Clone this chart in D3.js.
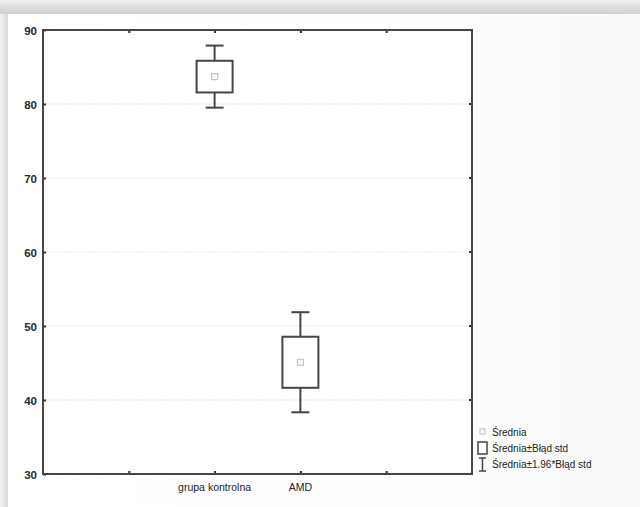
<!DOCTYPE html>
<html>
<head>
<meta charset="utf-8">
<script src="https://cdn.jsdelivr.net/npm/d3@7"></script>
<style>
  html, body { margin: 0; padding: 0; background: #fff; }
  svg { display: block; }
</style>
</head>
<body>
<svg id="chart" width="640" height="507"></svg>
<script>
// data
const groups = ['grupa kontrolna', 'AMD']
const groupPos = [2, 3]
const means = [83.7, 45.1]
const stdErr = [2.14, 3.45]
const yTicks = [30, 40, 50, 60, 70, 80, 90]
const legendLabels = ['Średnia', 'Średnia±Błąd std', 'Średnia±1.96*Błąd std']

const svg = d3.select('#chart')
const W = 640, H = 507
const plot = { left: 43, right: 472, top: 30, bottom: 474 }

// screenshot frame: grey shadow band on top and left
const defs = svg.append('defs')
const topGrad = defs.append('linearGradient').attr('id', 'topShade').attr('x1', 0).attr('y1', 0).attr('x2', 0).attr('y2', 1)
topGrad.append('stop').attr('offset', '0%').attr('stop-color', '#f0f0f0')
topGrad.append('stop').attr('offset', '100%').attr('stop-color', '#cfcfcf')
const leftGrad = defs.append('linearGradient').attr('id', 'leftShade').attr('x1', 0).attr('y1', 0).attr('x2', 1).attr('y2', 0)
leftGrad.append('stop').attr('offset', '0%').attr('stop-color', '#f2f2f2')
leftGrad.append('stop').attr('offset', '100%').attr('stop-color', '#d8d8d8')
const panelGrad = defs.append('linearGradient').attr('id', 'panelShade').attr('x1', 0).attr('y1', 0).attr('x2', 1).attr('y2', 0)
panelGrad.append('stop').attr('offset', '0%').attr('stop-color', '#ffffff')
panelGrad.append('stop').attr('offset', '70%').attr('stop-color', '#fdfdfd')
panelGrad.append('stop').attr('offset', '100%').attr('stop-color', '#f8f8f8')

svg.append('rect').attr('x', 0).attr('y', 0).attr('width', W).attr('height', H).attr('fill', '#f4f4f4')
svg.append('rect').attr('x', 0).attr('y', 0).attr('width', W).attr('height', 14).attr('fill', 'url(#topShade)')
svg.append('rect').attr('x', 0).attr('y', 14).attr('width', 8).attr('height', H - 14).attr('fill', 'url(#leftShade)')
svg.append('rect').attr('x', 8).attr('y', 14).attr('width', W - 8).attr('height', H - 14).attr('fill', 'url(#panelShade)')

const x = d3.scaleLinear().domain([0, 5]).range([plot.left, plot.right])
const y = d3.scaleLinear().domain([30, 90]).range([plot.bottom, plot.top])

const g = svg.append('g')

g.append('rect')
  .attr('x', plot.left).attr('y', plot.top)
  .attr('width', plot.right - plot.left).attr('height', plot.bottom - plot.top)
  .attr('fill', '#fff')

// faint gridlines
g.selectAll('.grid').data(yTicks.slice(1, -1)).join('line')
  .attr('class', 'grid')
  .attr('x1', plot.left).attr('x2', plot.right)
  .attr('y1', d => y(d)).attr('y2', d => y(d))
  .attr('stroke', '#e4e4e4').attr('stroke-width', 1)
  .attr('stroke-dasharray', '2,1')

// axes (ticks inward, no domain path; frame drawn separately)
const yAxis = d3.axisLeft(y).tickValues(yTicks).tickSize(-3).tickPadding(6)
const gy = g.append('g').attr('transform', `translate(${plot.left},0)`).call(yAxis)
gy.select('.domain').remove()
gy.selectAll('text').attr('font-family', 'Arial, "Liberation Sans", sans-serif')
  .attr('font-size', 11.5).attr('font-weight', 'bold').attr('fill', '#2a2a2a').attr('dy', '0.35em')
gy.selectAll('line').attr('stroke', '#333').attr('stroke-width', 2)

const xAxis = d3.axisBottom(x).tickValues([1, 2, 3, 4]).tickSize(-3).tickFormat('')
const gx = g.append('g').attr('transform', `translate(0,${plot.bottom})`).call(xAxis)
gx.select('.domain').remove()
gx.selectAll('line').attr('stroke', '#333').attr('stroke-width', 2)

const gxTop = g.append('g').attr('transform', `translate(0,${plot.top})`).call(d3.axisTop(x).tickValues([1, 2, 3, 4]).tickSize(-3).tickFormat(''))
gxTop.select('.domain').remove()
gxTop.selectAll('line').attr('stroke', '#333').attr('stroke-width', 2)

// right side ticks
g.selectAll('.rtick').data(yTicks.slice(1, -1)).join('line')
  .attr('x1', plot.right - 3).attr('x2', plot.right)
  .attr('y1', d => y(d)).attr('y2', d => y(d))
  .attr('stroke', '#333').attr('stroke-width', 2)

// category labels
g.selectAll('.cat').data(groups).join('text')
  .attr('x', (d, i) => x(groupPos[i]))
  .attr('y', plot.bottom + 17)
  .attr('text-anchor', 'middle')
  .attr('font-family', 'Arial, "Liberation Sans", sans-serif')
  .attr('font-size', 10.5).attr('fill', '#222')
  .text(d => d)

// frame
g.append('rect')
  .attr('x', plot.left).attr('y', plot.top)
  .attr('width', plot.right - plot.left).attr('height', plot.bottom - plot.top)
  .attr('fill', 'none').attr('stroke', '#4a4444').attr('stroke-width', 2)

// whisker boxes
const boxW = 36, capW = 18
const stroke = '#4a4444'
groups.forEach((name, i) => {
  const cx = x(groupPos[i])
  const m = means[i], se = stdErr[i]
  const hiW = y(m + 1.96 * se), loW = y(m - 1.96 * se)
  const hiB = y(m + se), loB = y(m - se)
  const bg = g.append('g')
  bg.append('line').attr('x1', cx).attr('x2', cx).attr('y1', hiW).attr('y2', hiB)
    .attr('stroke', stroke).attr('stroke-width', 2)
  bg.append('line').attr('x1', cx).attr('x2', cx).attr('y1', loB).attr('y2', loW)
    .attr('stroke', stroke).attr('stroke-width', 2)
  bg.append('line').attr('x1', cx - capW / 2).attr('x2', cx + capW / 2).attr('y1', hiW).attr('y2', hiW)
    .attr('stroke', stroke).attr('stroke-width', 2)
  bg.append('line').attr('x1', cx - capW / 2).attr('x2', cx + capW / 2).attr('y1', loW).attr('y2', loW)
    .attr('stroke', stroke).attr('stroke-width', 2)
  bg.append('rect').attr('x', cx - boxW / 2).attr('y', hiB)
    .attr('width', boxW).attr('height', loB - hiB)
    .attr('fill', '#fff').attr('stroke', stroke).attr('stroke-width', 2)
  bg.append('rect').attr('x', cx - 3).attr('y', y(m) - 3).attr('width', 6).attr('height', 6)
    .attr('fill', '#fff').attr('stroke', '#c4c4c4').attr('stroke-width', 1.2)
})

// legend
const lx = 478, ly = [432, 448, 464]
const leg = svg.append('g')
leg.append('rect').attr('x', lx + 2).attr('y', ly[0] - 3).attr('width', 5).attr('height', 5)
  .attr('fill', '#fff').attr('stroke', '#bbb').attr('stroke-width', 1)
leg.append('rect').attr('x', lx).attr('y', ly[1] - 6).attr('width', 9).attr('height', 12)
  .attr('fill', '#fff').attr('stroke', stroke).attr('stroke-width', 1.5)
leg.append('line').attr('x1', lx + 4.5).attr('x2', lx + 4.5).attr('y1', ly[2] - 6).attr('y2', ly[2] + 7)
  .attr('stroke', stroke).attr('stroke-width', 1.5)
leg.append('line').attr('x1', lx + 1).attr('x2', lx + 8).attr('y1', ly[2] - 6).attr('y2', ly[2] - 6)
  .attr('stroke', stroke).attr('stroke-width', 1.5)
leg.append('line').attr('x1', lx + 1).attr('x2', lx + 8).attr('y1', ly[2] + 7).attr('y2', ly[2] + 7)
  .attr('stroke', stroke).attr('stroke-width', 1.5)
leg.selectAll('text').data(legendLabels).join('text')
  .attr('x', lx + 14).attr('y', (d, i) => ly[i])
  .attr('dy', '0.35em')
  .attr('font-family', 'Arial, "Liberation Sans", sans-serif')
  .attr('font-size', 10).attr('fill', '#222')
  .text(d => d)
</script>
</body>
</html>
